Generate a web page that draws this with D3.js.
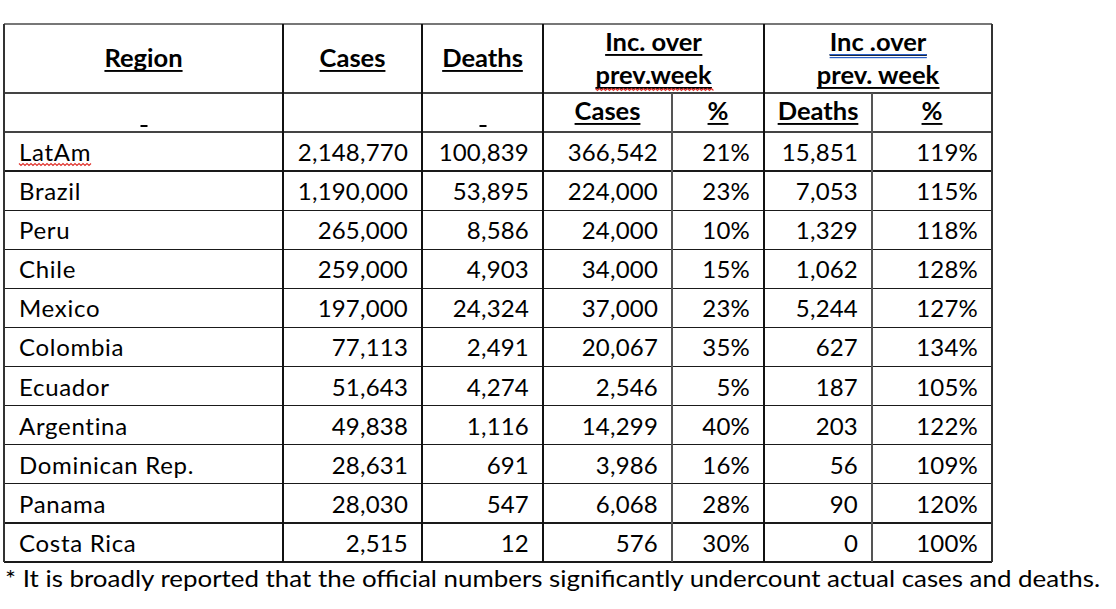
<!DOCTYPE html>
<html>
<head>
<meta charset="utf-8">
<script src="https://cdn.jsdelivr.net/npm/d3@7"></script>
<style>
  html, body { margin: 0; padding: 0; background: #fff; }
  svg { display: block; }
  text { font-family: Lato, "Open Sans", sans-serif; fill: #000; }
</style>
</head>
<body>
<svg id="chart" width="1116" height="609"></svg>
<script>
// ---- data ----
const regions = ["LatAm", "Brazil", "Peru", "Chile", "Mexico", "Colombia", "Ecuador", "Argentina", "Dominican Rep.", "Panama", "Costa Rica"];
const cases = [2148770, 1190000, 265000, 259000, 197000, 77113, 51643, 49838, 28631, 28030, 2515];
const deaths = [100839, 53895, 8586, 4903, 24324, 2491, 4274, 1116, 691, 547, 12];
const incCases = [366542, 224000, 24000, 34000, 37000, 20067, 2546, 14299, 3986, 6068, 576];
const incCasesPct = [21, 23, 10, 15, 23, 35, 5, 40, 16, 28, 30];
const incDeaths = [15851, 7053, 1329, 1062, 5244, 627, 187, 203, 56, 90, 0];
const incDeathsPct = [119, 115, 118, 128, 127, 134, 105, 122, 109, 120, 100];
const footnote = "* It is broadly reported that the official numbers significantly undercount actual cases and deaths.";

// ---- layout ----
const svg = d3.select("#chart");
const colEdges = [4, 283, 422, 543, 672, 764, 872, 992];
const tableTop = 24, headSplit = 93, bodyTop = 132, bodyBottom = 562;
const pad = 14;

const y = d3.scaleBand().domain(regions).range([bodyTop, bodyBottom]).paddingInner(0).paddingOuter(0);

const fmt = d3.format(",");
const pct = v => v + "%";

const rows = regions.map((r, i) => ({
  region: r,
  vals: [fmt(cases[i]), fmt(deaths[i]), fmt(incCases[i]), pct(incCasesPct[i]), fmt(incDeaths[i]), pct(incDeathsPct[i])]
}));

// ---- grid lines ----
const g = svg.append("g").attr("shape-rendering", "crispEdges");
const line = (x1, y1, x2, y2, col, w) => g.append("line")
  .attr("x1", x1).attr("y1", y1).attr("x2", x2).attr("y2", y2)
  .attr("stroke", col || "#1a1a1a").attr("stroke-width", w || 1.2);

line(colEdges[0], tableTop, colEdges[7], tableTop, "#777", 1.6);
line(colEdges[0], headSplit, colEdges[7], headSplit, "#444", 1.4);
line(colEdges[0], bodyTop, colEdges[7], bodyTop, "#444", 1.4);
regions.forEach(r => {
  line(colEdges[0], y(r) + y.bandwidth(), colEdges[7], y(r) + y.bandwidth());
});
[0, 1, 2, 3, 5, 7].forEach(k => line(colEdges[k], tableTop, colEdges[k], bodyBottom, k === 7 || k === 0 ? "#333" : "#111", 1.2));
[4, 6].forEach(k => line(colEdges[k], headSplit, colEdges[k], bodyBottom, "#555", 1.4));

// ---- headers ----
const hg = svg.append("g");
function headerText(x, yy, s) {
  const t = hg.append("text").attr("x", x).attr("y", yy)
    .attr("text-anchor", "middle").attr("font-size", 25.5).attr("font-weight", 700).text(s);
  const bb = t.node().getBBox();
  hg.append("rect").attr("x", bb.x).attr("y", yy + 3).attr("width", bb.width).attr("height", 1.9).attr("fill", "#000");
  return bb;
}
const mid = (a, b) => (colEdges[a] + colEdges[b]) / 2;
headerText(mid(0, 1), 67, "Region");
headerText(mid(1, 2), 67, "Cases");
headerText(mid(2, 3), 67, "Deaths");
headerText(mid(3, 5), 51, "Inc. over");
const b2 = headerText(mid(3, 5), 84, "prev.week");
const b3 = headerText(mid(5, 7), 51, "Inc .over");
headerText(mid(5, 7), 84, "prev. week");
headerText(mid(3, 4), 120, "Cases");
headerText(mid(4, 5), 120, "%");
headerText(mid(5, 6), 120, "Deaths");
headerText(mid(6, 7), 120, "%");
[[0, 1], [2, 3]].forEach(([a, b]) => {
  hg.append("rect").attr("x", mid(a, b) - 3).attr("y", 125).attr("width", 7).attr("height", 2).attr("fill", "#000");
});

// spell / grammar check marks
function squiggle(x0, x1, yy) {
  let d = `M${x0},${yy}`;
  for (let x = x0, k = 0; x < x1; x += 2, k++) d += ` L${x + 2},${yy + (k % 2 ? 0 : 2)}`;
  hg.append("path").attr("d", d).attr("fill", "none").attr("stroke", "#e0302a").attr("stroke-width", 1.1);
}
squiggle(b2.x, b2.x + b2.width, 88.5);
hg.append("rect").attr("x", b3.x).attr("y", 54).attr("width", b3.width).attr("height", 1.2).attr("fill", "#2a5fc8");
hg.append("rect").attr("x", b3.x).attr("y", 57).attr("width", b3.width).attr("height", 1.2).attr("fill", "#2a5fc8");

// ---- body ----
const bg = svg.append("g");
const rowG = bg.selectAll("g.row").data(rows).join("g").attr("class", "row")
  .attr("transform", d => `translate(0,${y(d.region)})`);

rowG.append("text").attr("class", "name").attr("x", 19).attr("y", 29).attr("font-size", 24)
  .attr("letter-spacing", 0.7).text(d => d.region);
rowG.selectAll("text.v").data(d => d.vals).join("text").attr("class", "v")
  .attr("x", (d, j) => colEdges[j + 2] - pad)
  .attr("y", 29).attr("text-anchor", "end").attr("font-size", 24).attr("letter-spacing", 0.2).text(d => d);

const lb = rowG.filter(d => d.region === "LatAm").select("text.name").node().getBBox();
squiggle(lb.x, lb.x + lb.width - 1, y("LatAm") + 31.5);

// ---- footnote ----
svg.append("text").attr("x", 5).attr("y", 587).attr("font-size", 24)
  .attr("textLength", 1095).attr("lengthAdjust", "spacingAndGlyphs").text(footnote);
</script>
</body>
</html>
